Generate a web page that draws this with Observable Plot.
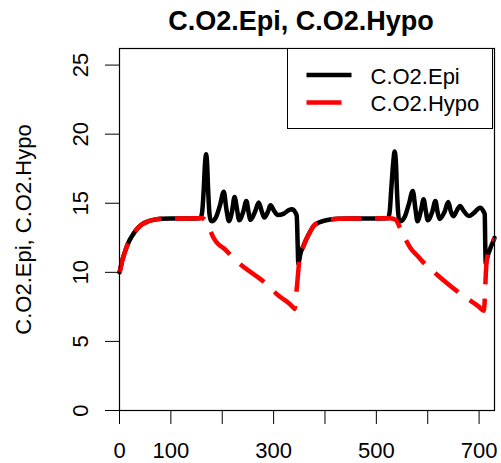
<!DOCTYPE html>
<html>
<head>
<meta charset="utf-8">
<script src="https://cdn.jsdelivr.net/npm/d3@7"></script>
<script src="https://cdn.jsdelivr.net/npm/@observablehq/plot@0.6"></script>
<style>
  html, body { margin: 0; padding: 0; background: white; }
  #wrap { position: relative; width: 501px; height: 463px; font-family: "Liberation Sans", Arial, sans-serif; }
  #title { position: absolute; left: 0; width: 602px; top: 8px; text-align: center; font-weight: bold; font-size: 27px; line-height: 27px; color: black; white-space: nowrap; }
  #plot { position: absolute; left: 0; top: 40px; }
  #legend { position: absolute; left: 287px; top: 48px; width: 206px; height: 81px; border: 1px solid black; background: white; box-sizing: border-box; }
</style>
</head>
<body>
<div id="wrap">
  <div id="title"></div>
  <div id="plot"></div>
  <div id="legend"></div>
</div>
<script>
const titleText = "C.O2.Epi, C.O2.Hypo";
const yLabel = "C.O2.Epi, C.O2.Hypo";
const seriesNames = ["C.O2.Epi", "C.O2.Hypo"];
const seriesColors = ["black", "red"];

const xTicks = [0, 100, 200, 300, 400, 500, 600, 700];
const xLabels = [0, 100, 300, 500, 700];
const yTicks = [0, 5, 10, 15, 20, 25];

// C.O2.Epi (black, solid)
const epiT = [0,2,5,9,13,18,24,30,37,45,55,66,80,100,130,155,158,161,164,166.5,168.5,170.5,172.5,175,178,181,188,196,203,208,213,219,224,229,233,241,247,251,255,264,271,277,282,289,294,301,308,320,329,336,342,345,347,348,350,352,358,365,372,378,388,397,410,427,450,490,520,523,526,529,533,535.5,538,540,542.5,545,548,555,563,571,576,580,587,592,596,600,609,615,619,623,633,640,645,650,657,663,670,680,690,702,708,711,712,713,716,722,728,730];
const epiV = [10.0,10.3,10.8,11.3,11.75,12.2,12.6,12.95,13.25,13.5,13.68,13.8,13.87,13.9,13.9,13.92,13.95,14.4,16.0,17.9,18.55,17.9,16.0,14.3,13.75,13.7,14.0,14.9,15.84,14.6,13.7,14.4,15.46,14.5,13.77,14.4,15.17,14.4,13.8,14.4,15.05,14.4,13.96,14.4,14.85,14.45,14.15,14.25,14.5,14.57,14.35,14.1,11.8,10.6,10.9,11.3,11.9,12.5,13.0,13.36,13.6,13.72,13.82,13.88,13.9,13.9,13.92,13.95,14.4,16.0,18.0,18.74,18.0,16.0,14.3,13.75,13.7,14.0,14.9,15.89,14.6,13.7,14.5,15.29,14.5,13.77,14.4,15.17,14.4,13.86,14.4,15.09,14.4,14.06,14.5,14.8,14.45,14.08,14.3,14.68,14.45,14.2,12.0,10.65,11.1,11.75,12.3,12.5];

// C.O2.Hypo (red, dashed)
const hypoT = [0,2,5,9,13,18,24,30,37,45,55,66,80,100,130,155,160,165,170,176,183,192,203,220,235,260,287,310,325,339,341,343,346,348.5,350,352,358,365,372,378,388,397,410,427,450,490,520,530,535,540,545,550,558,566,580,592,625,657,689,700,709,711,713,714.5,716,722,728,730];
const hypoV = [10.0,10.3,10.8,11.3,11.75,12.2,12.6,12.95,13.25,13.5,13.68,13.8,13.87,13.9,13.9,13.92,13.92,13.85,13.6,13.1,12.5,12.05,11.74,11.1,10.58,9.9,9.13,8.3,7.9,7.43,7.35,8.1,9.2,10.3,10.9,11.3,11.9,12.5,13.0,13.36,13.6,13.72,13.82,13.88,13.9,13.9,13.92,13.9,13.85,13.7,13.3,12.95,12.3,11.78,11.2,10.7,9.61,8.64,7.8,7.5,7.22,8.0,9.8,10.7,11.1,11.75,12.3,12.5];

const epi = epiT.map((t, i) => ({t, v: epiV[i]}));
const hypo = hypoT.map((t, i) => ({t, v: hypoV[i]}));

document.getElementById("title").textContent = titleText;

const chart = Plot.plot({
  width: 501,
  height: 423,
  marginLeft: 119,
  marginRight: 7,
  marginTop: 8,
  marginBottom: 53,
  style: {fontFamily: "'Liberation Sans', Arial, sans-serif", fontSize: "22px", color: "black", background: "white", overflow: "visible"},
  x: {domain: [0, 730]},
  y: {domain: [0, 26.2]},
  marks: [
    Plot.lineY(epi, {x: "t", y: "v", stroke: seriesColors[0], strokeWidth: 4.5, curve: "monotone-x"}),
    Plot.lineY(hypo, {x: "t", y: "v", stroke: seriesColors[1], strokeWidth: 4.5, strokeDasharray: "30,14", strokeLinecap: "butt", curve: "monotone-x"}),
    Plot.frame({stroke: "black", strokeWidth: 1.2}),
    Plot.axisX({ticks: xTicks, tickSize: 14, tickPadding: 18, fontSize: 22, tickFormat: d => xLabels.includes(d) ? String(d) : "", label: null}),
    Plot.axisY({ticks: yTicks, tickSize: 14, tickPadding: 18, fontSize: 22, tickRotate: -90, label: yLabel, labelAnchor: "center", labelOffset: 104, labelArrow: "none"})
  ]
});
document.getElementById("plot").appendChild(chart);

// legend
const lg = d3.select("#legend").append("svg").attr("width", 206).attr("height", 81)
  .style("position", "absolute").style("left", "-1px").style("top", "-1px")
  .style("font-family", "'Liberation Sans', Arial, sans-serif");
seriesNames.forEach((name, i) => {
  const y = 27 + i * 27.4;
  lg.append("line").attr("x1", 19.5).attr("x2", i === 0 ? 64.5 : 54.5).attr("y1", y).attr("y2", y)
    .attr("stroke", seriesColors[i]).attr("stroke-width", 4.5);
  lg.append("text").attr("x", 83.5).attr("y", y + 9).attr("font-size", 22).attr("fill", "black").text(name);
});
</script>
</body>
</html>
